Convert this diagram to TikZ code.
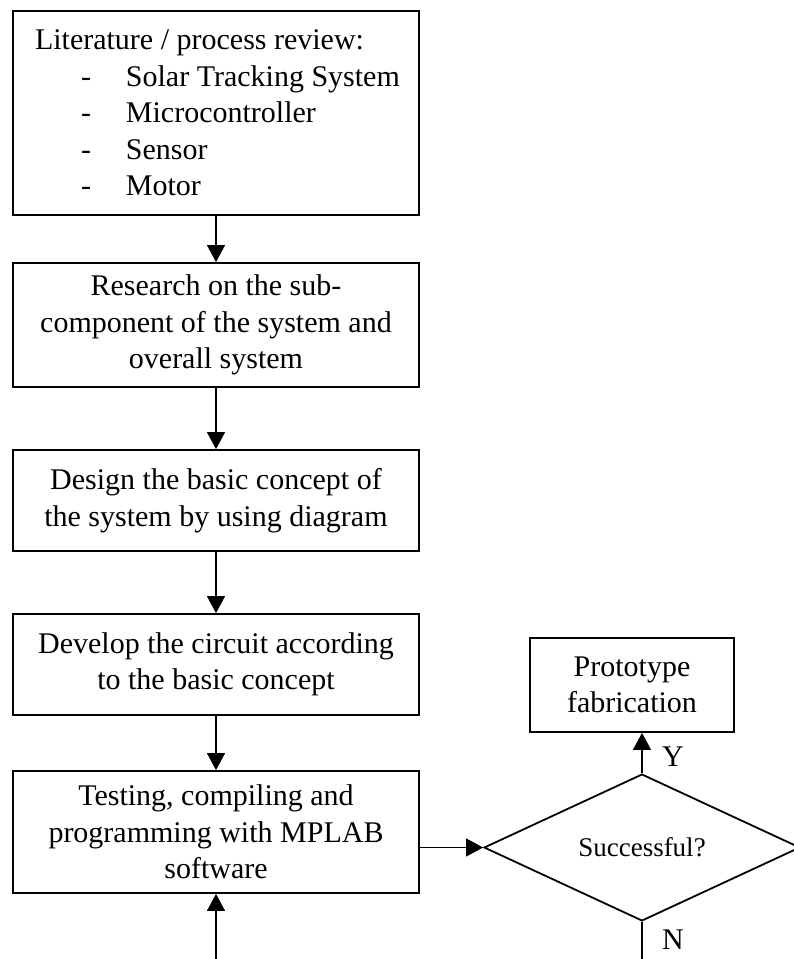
\documentclass[tikz,border=0pt]{standalone}
\usepackage{fontspec}
\setmainfont{Liberation Serif}
\usetikzlibrary{shapes.geometric,arrows.meta}
\tikzset{
  stepbox/.style={draw, line width=1.8pt, rectangle, inner sep=0pt, minimum width=406pt,
    align=center, font=\fontsize{30}{36.5}\selectfont},
  decbox/.style={draw, line width=1.8pt, diamond, inner sep=0pt, minimum width=316pt,
    minimum height=137pt, font=\fontsize{27}{32}\selectfont},
  conn/.style={line width=1.3pt, -{Triangle[width=18pt,length=17pt]}},
  plainconn/.style={line width=1.3pt},
  lab/.style={font=\fontsize{30}{36}\selectfont, inner sep=0pt}
}
\begin{document}
\begin{tikzpicture}[x=1pt,y=-1pt]
\useasboundingbox (0,0) rectangle (794,959);
\clip (0,0) rectangle (794,959);
\node[stepbox, minimum height=204pt] (b1) at (216,113)
  {\parbox{362pt}{\raggedright Literature / process review:\\
   \makebox[91pt][l]{\hspace*{46pt}-}\mbox{Solar Tracking System}\\
   \makebox[91pt][l]{\hspace*{46pt}-}Microcontroller\\
   \makebox[91pt][l]{\hspace*{46pt}-}Sensor\\
   \makebox[91pt][l]{\hspace*{46pt}-}Motor}};
\node[stepbox, minimum height=124pt] (b2) at (216,325)
  {Research on the sub-\\component of the system and\\overall system};
\node[stepbox, minimum height=101pt] (b3) at (216,500.5)
  {Design the basic concept of\\the system by using diagram};
\node[stepbox, minimum height=101pt] (b4) at (216,664.5)
  {Develop the circuit according\\to the basic concept};
\node[stepbox, minimum height=122pt] (b5) at (216,832)
  {Testing, compiling and\\programming with MPLAB\\software};
\node[stepbox, minimum width=204pt, minimum height=94pt] (proto) at (632,685)
  {Prototype\\fabrication};
\node[decbox] (dec) at (642,847.5) {Successful?};
\coordinate (nend) at (642,965);
\coordinate (loopstart) at (216,965);
\draw[conn] (b1) -- (b2);
\draw[conn] (b2) -- (b3);
\draw[conn] (b3) -- (b4);
\draw[conn] (b4) -- (b5);
\draw[conn] (b5.east |- dec.west) -- (dec.west);
\draw[conn] (dec.north) -- (dec.north |- proto.south);
\draw[plainconn] (dec.south) -- (nend);
\draw[conn] (loopstart) -- (b5.south);
\node[lab] (ylab) at (673,757) {Y};
\node[lab] (nlab) at (673,940) {N};
\end{tikzpicture}
\end{document}
